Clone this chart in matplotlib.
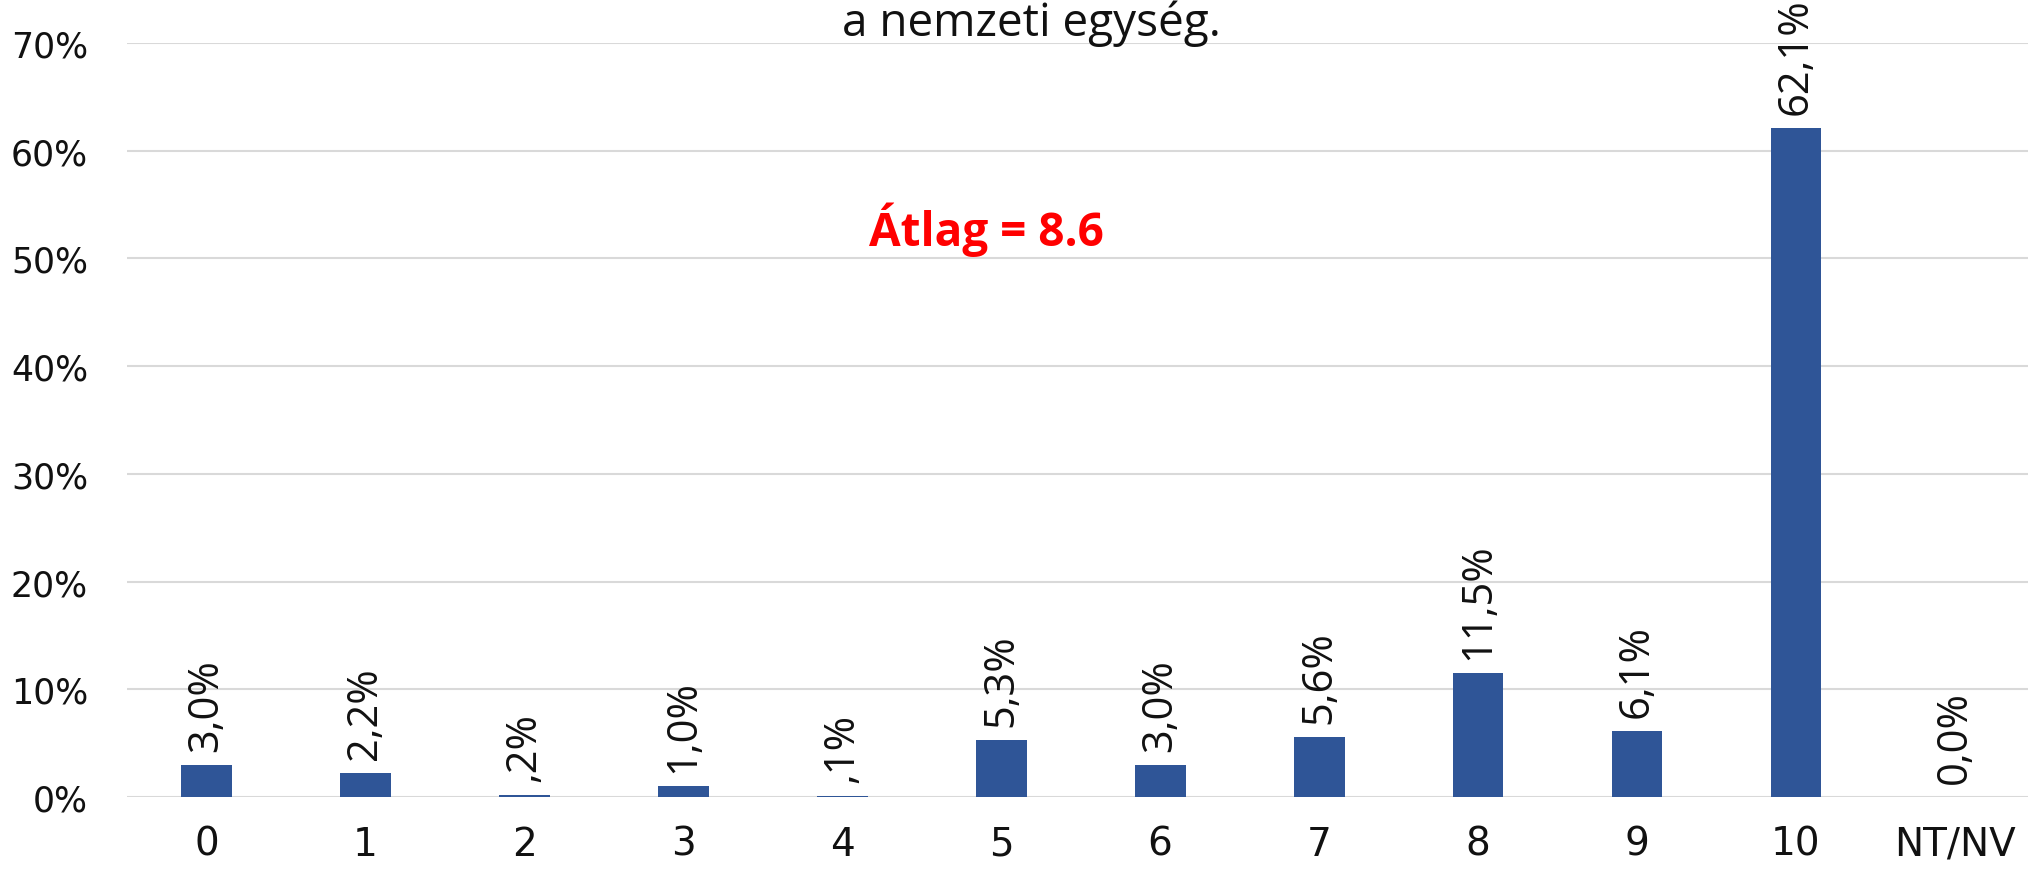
import numpy as np
import matplotlib.pyplot as plt

categories = ["0", "1", "2", "3", "4", "5", "6", "7", "8", "9", "10", "NT/NV"]
values = [3.0, 2.2, 0.2, 1.0, 0.1, 5.3, 3.0, 5.6, 11.5, 6.1, 62.1, 0.0]
value_labels = ["3,0%", "2,2%", ",2%", "1,0%", ",1%", "5,3%", "3,0%", "5,6%",
                "11,5%", "6,1%", "62,1%", "0,0%"]
yticks = [0, 10, 20, 30, 40, 50, 60, 70]

bar_color = '#2F5597'
font = ['Open Sans', 'DejaVu Sans']
tick_font = ['DejaVu Sans']

fig = plt.figure(figsize=(20.28, 8.7), dpi=100)
ax = fig.add_axes([127 / 2028, 72 / 870, 1 - 127 / 2028, (798 - 44) / 870])

x = np.arange(len(categories))
ax.bar(x, values, width=0.32, color=bar_color, zorder=3)

# rotated value labels just above each bar
for xi, v, lab in zip(x, values, value_labels):
    ax.annotate(lab, (xi, v), xytext=(0, 10), textcoords='offset points',
                rotation=90, ha='center', va='bottom', fontsize=30,
                family=font, color='#111111', annotation_clip=False)

ax.set_xlim(-0.5, 11.46)
ax.set_ylim(0, 70)
ax.set_yticks(yticks)
ax.set_yticklabels([f"{t}%" for t in yticks], family=tick_font, fontsize=25)
ax.set_xticks(x)
ax.set_xticklabels(categories, family=tick_font, fontsize=28)
ax.tick_params(axis='y', length=0, pad=28, colors='#111111')
ax.tick_params(axis='x', length=0, pad=20, colors='#111111')
ax.grid(axis='y', color='#D9D9D9', linewidth=1.5, zorder=0)
for s in ax.spines.values():
    s.set_visible(False)

ax.text(0.452, 0.753, "Átlag = 8.6", transform=ax.transAxes, color='#FF0000',
        fontsize=33, fontweight='bold', family=font, ha='center', va='center')

fig.text(1031 / 2028, 1 - 36 / 870, "a nemzeti egység.", ha='center', va='baseline',
         fontsize=33, family=font, color='#111111')

fig.savefig('out.png', dpi=100)
